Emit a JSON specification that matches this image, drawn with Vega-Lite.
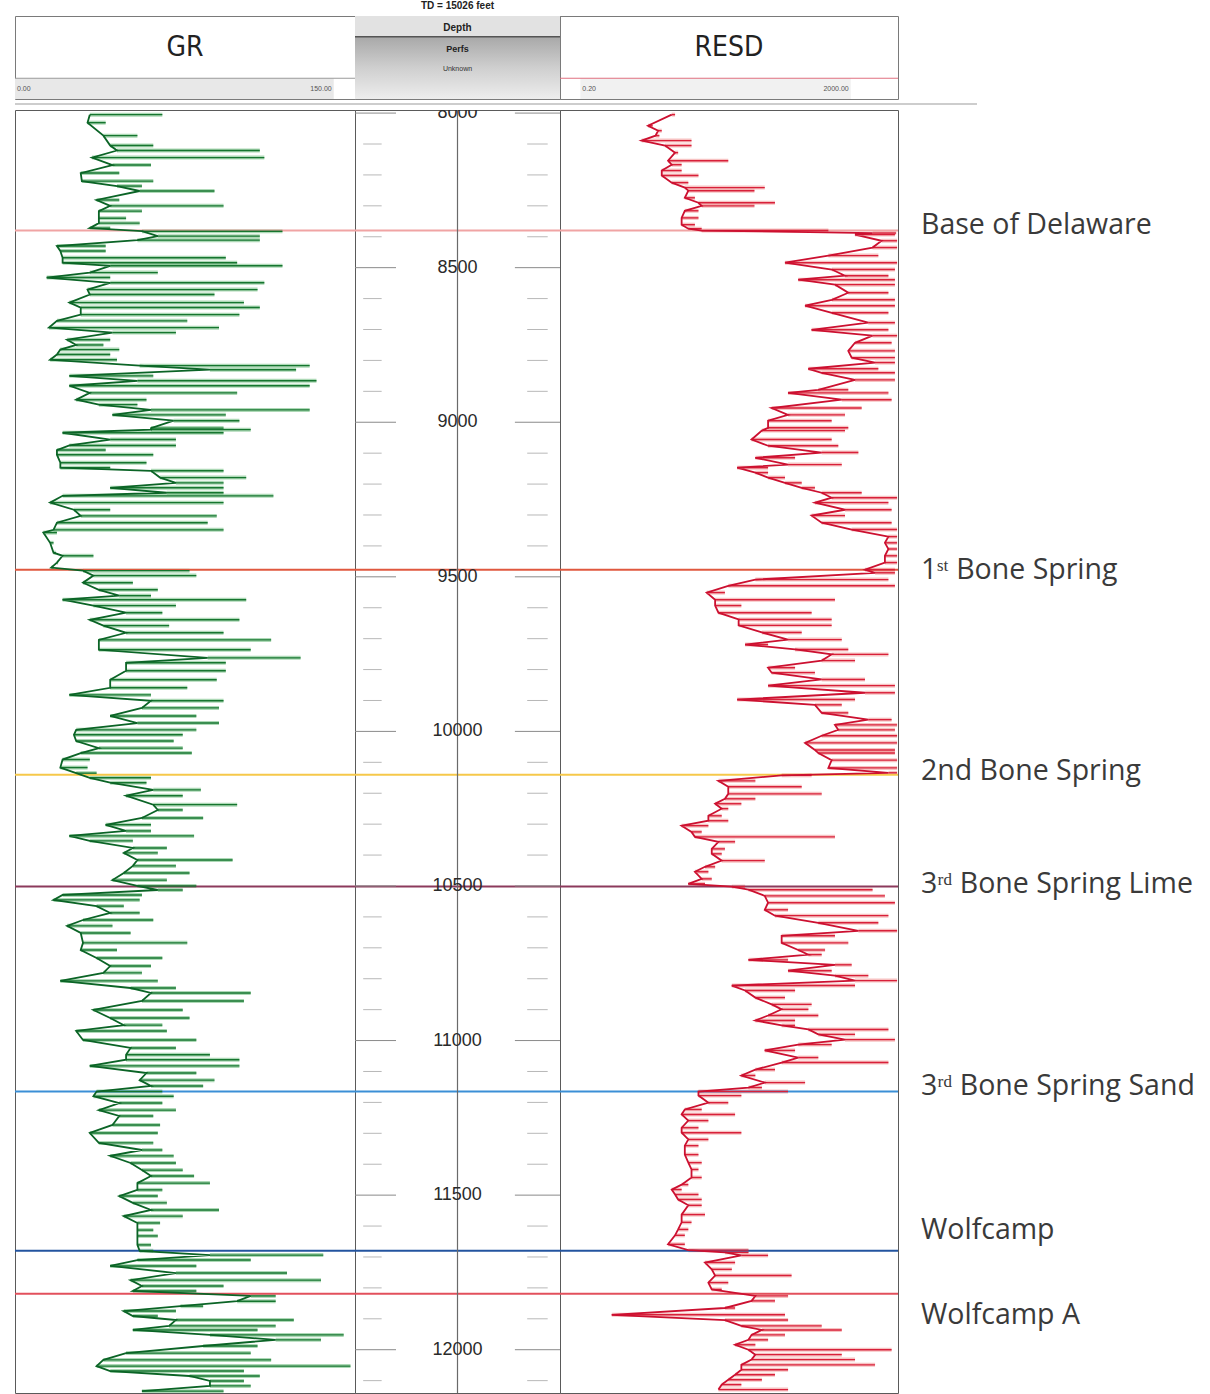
{
"$schema":"https://vega.github.io/schema/vega-lite/v6.json",
"padding":{"left":13,"top":0,"right":0,"bottom":0},
"background":"white",
"config":{"view":{"stroke":null},"concat":{"spacing":0},"text":{"font":"Liberation Sans"}},
"datasets":{
"gr":[
{"d":8005,"lo":33,"hi":65},{"d":8031,"lo":32,"hi":40},{"d":8073,"lo":39,"hi":54},{"d":8105,"lo":42,"hi":61},{"d":8121,"lo":45,"hi":108},{"d":8144,"lo":34,"hi":110},{"d":8168,"lo":43,"hi":60},{"d":8194,"lo":29,"hi":46},{"d":8220,"lo":29.5,"hi":61},{"d":8236,"lo":45,"hi":56},{"d":8252,"lo":55,"hi":88},{"d":8281,"lo":36,"hi":46},{"d":8300,"lo":42,"hi":92},{"d":8317,"lo":37,"hi":56},{"d":8340,"lo":37,"hi":49},{"d":8356,"lo":37,"hi":55},{"d":8372,"lo":33,"hi":42},{"d":8382,"lo":56,"hi":118},{"d":8398,"lo":63,"hi":108},{"d":8411,"lo":54,"hi":108},{"d":8430,"lo":18.5,"hi":40},{"d":8446,"lo":20,"hi":40},{"d":8468,"lo":21,"hi":93},{"d":8484,"lo":21,"hi":98},{"d":8494,"lo":42,"hi":118},{"d":8516,"lo":33,"hi":63},{"d":8532,"lo":14,"hi":42},{"d":8549,"lo":42,"hi":110},{"d":8571,"lo":32,"hi":107},{"d":8587,"lo":33,"hi":88},{"d":8613,"lo":24,"hi":101},{"d":8629,"lo":29,"hi":108},{"d":8652,"lo":29,"hi":99},{"d":8672,"lo":18.5,"hi":76},{"d":8694,"lo":15,"hi":90},{"d":8710,"lo":43,"hi":71},{"d":8733,"lo":23,"hi":42},{"d":8750,"lo":27,"hi":39},{"d":8765,"lo":20,"hi":46},{"d":8781,"lo":18.5,"hi":42},{"d":8798,"lo":15.5,"hi":45},{"d":8817,"lo":55,"hi":130},{"d":8830,"lo":86,"hi":124},{"d":8850,"lo":24,"hi":61},{"d":8866,"lo":54,"hi":133},{"d":8882,"lo":24,"hi":130},{"d":8905,"lo":33,"hi":98},{"d":8927,"lo":27,"hi":58},{"d":8943,"lo":37,"hi":54},{"d":8960,"lo":60,"hi":130},{"d":8976,"lo":43,"hi":93},{"d":8995,"lo":70,"hi":99},{"d":9019,"lo":60,"hi":92},
{"d":9024,"lo":60,"hi":104},{"d":9034,"lo":21,"hi":92},{"d":9056,"lo":42,"hi":71},{"d":9075,"lo":24,"hi":71},{"d":9090,"lo":18.5,"hi":40},{"d":9105,"lo":18.5,"hi":61},{"d":9131,"lo":20,"hi":58},{"d":9147,"lo":20,"hi":42},{"d":9157,"lo":60,"hi":92},{"d":9179,"lo":64,"hi":102},{"d":9196,"lo":71,"hi":92},{"d":9212,"lo":42,"hi":92},{"d":9228,"lo":67,"hi":92},{"d":9238,"lo":21,"hi":114},{"d":9260,"lo":15.5,"hi":92},{"d":9283,"lo":26,"hi":42},{"d":9303,"lo":29,"hi":89},{"d":9325,"lo":18.5,"hi":85},{"d":9348,"lo":17,"hi":92},{"d":9357,"lo":12.5,"hi":18.5},{"d":9390,"lo":15.5,"hi":17},{"d":9422,"lo":17,"hi":18},{"d":9432,"lo":21,"hi":34.6},{"d":9454,"lo":18.5,"hi":19},{"d":9470,"lo":16,"hi":17},{"d":9480,"lo":30,"hi":77},{"d":9496,"lo":34.6,"hi":80},{"d":9519,"lo":30,"hi":52},{"d":9542,"lo":37,"hi":63},{"d":9561,"lo":46,"hi":60},{"d":9574,"lo":21,"hi":102},{"d":9593,"lo":34.6,"hi":71},{"d":9616,"lo":49,"hi":65},{"d":9639,"lo":33,"hi":99},{"d":9658,"lo":39,"hi":68},{"d":9681,"lo":49,"hi":92},{"d":9704,"lo":37,"hi":113},{"d":9736,"lo":37,"hi":104},{"d":9762,"lo":85,"hi":126},{"d":9778,"lo":49,"hi":93},{"d":9804,"lo":49,"hi":93},{"d":9833,"lo":42,"hi":89},{"d":9859,"lo":42,"hi":76},{"d":9882,"lo":24,"hi":60},{"d":9901,"lo":60,"hi":92},{"d":9924,"lo":56,"hi":90},{"d":9950,"lo":42,"hi":80},{"d":9973,"lo":54,"hi":90},{"d":9995,"lo":27,"hi":80},{"d":10011,"lo":26,"hi":74},{"d":10031,"lo":27,"hi":70},{"d":10054,"lo":37,"hi":74},
{"d":10070,"lo":29,"hi":78},{"d":10091,"lo":21,"hi":33},{"d":10117,"lo":20,"hi":32},{"d":10135,"lo":27,"hi":36},{"d":10150,"lo":33,"hi":60},{"d":10166,"lo":42,"hi":58},{"d":10189,"lo":61,"hi":82},{"d":10208,"lo":49,"hi":74},{"d":10237,"lo":61,"hi":98},{"d":10254,"lo":63,"hi":74},{"d":10280,"lo":56,"hi":83},{"d":10302,"lo":40,"hi":60},{"d":10322,"lo":49,"hi":60},{"d":10338,"lo":24,"hi":79},{"d":10354,"lo":33,"hi":52},{"d":10377,"lo":52,"hi":67},{"d":10393,"lo":48,"hi":63},{"d":10416,"lo":54,"hi":96},{"d":10435,"lo":52,"hi":71},{"d":10458,"lo":48,"hi":77},{"d":10481,"lo":43,"hi":67},{"d":10500,"lo":54,"hi":80},{"d":10513,"lo":63,"hi":74},{"d":10529,"lo":21,"hi":56},{"d":10545,"lo":17,"hi":55},{"d":10565,"lo":36,"hi":48},{"d":10587,"lo":42,"hi":55},{"d":10610,"lo":30,"hi":61},{"d":10629,"lo":23,"hi":43},{"d":10652,"lo":29,"hi":51},{"d":10684,"lo":30,"hi":76},{"d":10707,"lo":29,"hi":45},{"d":10733,"lo":36,"hi":65},{"d":10759,"lo":42,"hi":60},{"d":10781,"lo":39,"hi":56},{"d":10807,"lo":20,"hi":63},{"d":10830,"lo":51,"hi":71},{"d":10846,"lo":60,"hi":104},{"d":10872,"lo":56,"hi":101},{"d":10901,"lo":34.6,"hi":74},{"d":10927,"lo":42,"hi":77},{"d":10950,"lo":48,"hi":65},{"d":10969,"lo":27,"hi":67},{"d":10998,"lo":30,"hi":80},{"d":11024,"lo":51,"hi":71},{"d":11046,"lo":49,"hi":86},{"d":11062,"lo":49,"hi":99},{"d":11082,"lo":33,"hi":99},
{"d":11105,"lo":58,"hi":80},{"d":11128,"lo":55,"hi":88},{"d":11147,"lo":60,"hi":83},{"d":11165,"lo":36,"hi":65},{"d":11180,"lo":34.6,"hi":70},{"d":11202,"lo":46,"hi":65},{"d":11225,"lo":37,"hi":71},{"d":11244,"lo":46,"hi":61},{"d":11273,"lo":43,"hi":64},{"d":11299,"lo":33,"hi":63},{"d":11331,"lo":37,"hi":61},{"d":11354,"lo":56,"hi":65},{"d":11373,"lo":42,"hi":70},{"d":11396,"lo":51,"hi":71},{"d":11419,"lo":56,"hi":74},{"d":11438,"lo":60,"hi":79},{"d":11461,"lo":54,"hi":86},{"d":11483,"lo":54,"hi":65},{"d":11503,"lo":46,"hi":63},{"d":11525,"lo":52,"hi":67},{"d":11548,"lo":60,"hi":90},{"d":11568,"lo":48,"hi":74},{"d":11590,"lo":54,"hi":64},{"d":11613,"lo":54,"hi":61},{"d":11632,"lo":54,"hi":63},{"d":11661,"lo":54,"hi":60},{"d":11680,"lo":55,"hi":61},{"d":11694,"lo":86,"hi":136},{"d":11710,"lo":54,"hi":104},{"d":11729,"lo":42,"hi":80},{"d":11752,"lo":71,"hi":120},{"d":11775,"lo":51,"hi":135},{"d":11794,"lo":56,"hi":92},{"d":11810,"lo":52,"hi":80},{"d":11826,"lo":104,"hi":115},{"d":11843,"lo":98,"hi":115},{"d":11859,"lo":73,"hi":83},{"d":11875,"lo":48,"hi":71},{"d":11891,"lo":52,"hi":63},{"d":11904,"lo":71,"hi":123},{"d":11923,"lo":68,"hi":115},{"d":11936,"lo":52,"hi":107},{"d":11952,"lo":86,"hi":145},{"d":11968,"lo":115,"hi":135},{"d":11988,"lo":83,"hi":107},{"d":12011,"lo":49,"hi":104},{"d":12033,"lo":39,"hi":113},{"d":12053,"lo":36,"hi":148},{"d":12069,"lo":42,"hi":101},{"d":12085,"lo":77,"hi":108},{"d":12101,"lo":86,"hi":101},{"d":12117,"lo":86,"hi":104},{"d":12134,"lo":56,"hi":92}
],
"resd":[
{"d":8005,"lo":4.2,"hi":4.6},{"d":8041,"lo":2.2,"hi":2.5},{"d":8057,"lo":2.9,"hi":3.2},{"d":8073,"lo":2.7,"hi":3.0},{"d":8089,"lo":1.85,"hi":7.2},{"d":8105,"lo":3.5,"hi":7.2},{"d":8128,"lo":4.6,"hi":5.0},{"d":8154,"lo":3.8,"hi":19.6},{"d":8167,"lo":4.2,"hi":5.5},{"d":8186,"lo":3.2,"hi":5.5},{"d":8202,"lo":3.2,"hi":8.7},{"d":8225,"lo":4.2,"hi":6.6},{"d":8241,"lo":6.0,"hi":53},{"d":8251,"lo":6.6,"hi":40},{"d":8274,"lo":6.0,"hi":7.9},{"d":8290,"lo":8.7,"hi":70},{"d":8300,"lo":9.5,"hi":40},{"d":8316,"lo":6.0,"hi":8.7},{"d":8339,"lo":5.5,"hi":8.7},{"d":8361,"lo":5.5,"hi":7.9},{"d":8374,"lo":6.6,"hi":9.5},{"d":8380,"lo":9.5,"hi":300},{"d":8388,"lo":1000,"hi":1900},{"d":8393,"lo":620,"hi":1840},{"d":8413,"lo":1280,"hi":1950},{"d":8435,"lo":1000,"hi":1950},{"d":8461,"lo":300,"hi":1170},{"d":8484,"lo":92,"hi":1950},{"d":8506,"lo":330,"hi":1840},{"d":8526,"lo":470,"hi":1540},{"d":8539,"lo":132,"hi":1840},{"d":8555,"lo":360,"hi":1840},{"d":8581,"lo":516,"hi":1540},{"d":8604,"lo":330,"hi":1840},{"d":8623,"lo":159,"hi":1840},{"d":8646,"lo":330,"hi":1540},{"d":8678,"lo":890,"hi":1840},{"d":8701,"lo":190,"hi":1540},{"d":8720,"lo":1000,"hi":1950},{"d":8743,"lo":620,"hi":1680},{"d":8769,"lo":516,"hi":1840},{"d":8791,"lo":566,"hi":1840},{"d":8807,"lo":1070,"hi":1840},{"d":8827,"lo":174,"hi":1170},{"d":8840,"lo":250,"hi":1840},{"d":8863,"lo":620,"hi":1840},{"d":8895,"lo":228,"hi":516},{"d":8905,"lo":100,"hi":1540},{"d":8927,"lo":432,"hi":1680},{"d":8954,"lo":64,"hi":743},{"d":8976,"lo":100,"hi":472},{"d":8995,"lo":58,"hi":328},{"d":9018,"lo":58,"hi":516},
{"d":9027,"lo":49,"hi":472},{"d":9056,"lo":37,"hi":328},{"d":9076,"lo":58,"hi":393},{"d":9098,"lo":250,"hi":679},{"d":9115,"lo":41,"hi":121},{"d":9137,"lo":100,"hi":432},{"d":9147,"lo":25,"hi":58},{"d":9163,"lo":41,"hi":58},{"d":9179,"lo":58,"hi":92},{"d":9196,"lo":92,"hi":145},{"d":9212,"lo":145,"hi":208},{"d":9228,"lo":250,"hi":743},{"d":9244,"lo":328,"hi":1950},{"d":9260,"lo":208,"hi":1540},{"d":9283,"lo":472,"hi":1680},{"d":9302,"lo":190,"hi":472},{"d":9325,"lo":250,"hi":1680},{"d":9347,"lo":566,"hi":1950},{"d":9370,"lo":1540,"hi":1950},{"d":9390,"lo":1400,"hi":1950},{"d":9410,"lo":1540,"hi":1950},{"d":9432,"lo":1400,"hi":1950},{"d":9454,"lo":1400,"hi":1950},{"d":9477,"lo":813,"hi":1840},{"d":9487,"lo":1070,"hi":1840},{"d":9509,"lo":41,"hi":1540},{"d":9529,"lo":19.6,"hi":1840},{"d":9551,"lo":10.9,"hi":17.9},{"d":9574,"lo":13.7,"hi":359},{"d":9593,"lo":13.7,"hi":28},{"d":9616,"lo":15,"hi":190},{"d":9638,"lo":26,"hi":328},{"d":9657,"lo":26,"hi":328},{"d":9680,"lo":49,"hi":145},{"d":9703,"lo":100,"hi":432},{"d":9719,"lo":31,"hi":58},{"d":9735,"lo":121,"hi":516},{"d":9751,"lo":328,"hi":1540},{"d":9771,"lo":250,"hi":620},{"d":9794,"lo":58,"hi":121},{"d":9810,"lo":64,"hi":208},{"d":9832,"lo":250,"hi":813},{"d":9852,"lo":58,"hi":1840},{"d":9875,"lo":813,"hi":1840},{"d":9897,"lo":25,"hi":620},{"d":9914,"lo":208,"hi":432},{"d":9940,"lo":250,"hi":516},{"d":9962,"lo":891,"hi":1680},{"d":9979,"lo":359,"hi":1950},{"d":9995,"lo":393,"hi":1840},{"d":10014,"lo":250,"hi":1950},{"d":10037,"lo":159,"hi":1950},{"d":10060,"lo":208,"hi":1840},
{"d":10070,"lo":228,"hi":1840},{"d":10093,"lo":328,"hi":1950},{"d":10118,"lo":300,"hi":1950},{"d":10134,"lo":1540,"hi":1950},{"d":10142,"lo":84,"hi":190},{"d":10160,"lo":15,"hi":41},{"d":10179,"lo":19.6,"hi":145},{"d":10202,"lo":19.6,"hi":250},{"d":10218,"lo":17.9,"hi":41},{"d":10234,"lo":13.7,"hi":28},{"d":10250,"lo":16.4,"hi":19.6},{"d":10273,"lo":11.4,"hi":16.4},{"d":10289,"lo":11.4,"hi":19.6},{"d":10305,"lo":5.5,"hi":11.4},{"d":10325,"lo":7.2,"hi":9.5},{"d":10341,"lo":7.9,"hi":359},{"d":10357,"lo":15,"hi":23.6},{"d":10380,"lo":12.5,"hi":17.9},{"d":10396,"lo":12.5,"hi":16.4},{"d":10418,"lo":16.4,"hi":53},{"d":10438,"lo":10.4,"hi":13.7},{"d":10454,"lo":7.9,"hi":11.4},{"d":10477,"lo":9.5,"hi":12.5},{"d":10493,"lo":6.6,"hi":10.4},{"d":10502,"lo":21.6,"hi":31},{"d":10512,"lo":34,"hi":1000},{"d":10532,"lo":53,"hi":1400},{"d":10554,"lo":58,"hi":1840},{"d":10577,"lo":53,"hi":100},{"d":10596,"lo":70,"hi":1540},{"d":10619,"lo":228,"hi":1170},{"d":10645,"lo":679,"hi":1950},{"d":10661,"lo":84,"hi":359},{"d":10684,"lo":84,"hi":516},{"d":10707,"lo":132,"hi":274},{"d":10722,"lo":174,"hi":250},{"d":10739,"lo":34,"hi":100},{"d":10755,"lo":359,"hi":566},{"d":10774,"lo":100,"hi":328},{"d":10790,"lo":359,"hi":891},{"d":10806,"lo":620,"hi":1950},{"d":10822,"lo":21.6,"hi":620},{"d":10838,"lo":31,"hi":121},{"d":10861,"lo":41,"hi":92},{"d":10883,"lo":64,"hi":190},{"d":10899,"lo":84,"hi":174},{"d":10919,"lo":58,"hi":228},{"d":10935,"lo":41,"hi":121},{"d":10951,"lo":84,"hi":121},{"d":10964,"lo":174,"hi":1540},{"d":10980,"lo":228,"hi":620},{"d":10997,"lo":472,"hi":1840},{"d":11013,"lo":132,"hi":328},{"d":11032,"lo":53,"hi":121},{"d":11055,"lo":132,"hi":228},{"d":11071,"lo":84,"hi":1540},{"d":11094,"lo":41,"hi":70},
{"d":11113,"lo":28,"hi":41},{"d":11136,"lo":53,"hi":159},{"d":11152,"lo":34,"hi":49},{"d":11165,"lo":8.7,"hi":100},{"d":11178,"lo":8.7,"hi":28},{"d":11201,"lo":11.4,"hi":19.6},{"d":11223,"lo":6.0,"hi":9.5},{"d":11239,"lo":5.5,"hi":23.6},{"d":11259,"lo":6.6,"hi":11.4},{"d":11282,"lo":5.5,"hi":8.7},{"d":11298,"lo":5.5,"hi":28},{"d":11320,"lo":6.6,"hi":11.4},{"d":11340,"lo":6.0,"hi":8.7},{"d":11369,"lo":6.0,"hi":8.7},{"d":11395,"lo":6.6,"hi":9.5},{"d":11417,"lo":7.2,"hi":8.7},{"d":11443,"lo":7.2,"hi":9.5},{"d":11466,"lo":5.5,"hi":6.6},{"d":11482,"lo":4.2,"hi":5.5},{"d":11498,"lo":4.6,"hi":8.7},{"d":11514,"lo":5.0,"hi":9.5},{"d":11533,"lo":6.6,"hi":9.5},{"d":11563,"lo":5.5,"hi":10.4},{"d":11588,"lo":5.5,"hi":7.2},{"d":11611,"lo":5.0,"hi":6.6},{"d":11630,"lo":4.6,"hi":6.0},{"d":11659,"lo":3.8,"hi":6.0},{"d":11678,"lo":6.6,"hi":34},{"d":11685,"lo":17.9,"hi":34},{"d":11695,"lo":28,"hi":58},{"d":11718,"lo":10.4,"hi":23.6},{"d":11740,"lo":12.5,"hi":21.6},{"d":11760,"lo":13.7,"hi":110},{"d":11783,"lo":11.4,"hi":19.6},{"d":11805,"lo":12.5,"hi":16.4},{"d":11826,"lo":41,"hi":100},{"d":11842,"lo":37,"hi":70},{"d":11865,"lo":17.9,"hi":23.6},{"d":11887,"lo":0.82,"hi":92},{"d":11904,"lo":17.9,"hi":100},{"d":11923,"lo":28,"hi":250},{"d":11936,"lo":49,"hi":432},{"d":11952,"lo":37,"hi":92},{"d":11968,"lo":34,"hi":58},{"d":11984,"lo":23.6,"hi":41},{"d":12000,"lo":34,"hi":1680},{"d":12016,"lo":41,"hi":432},{"d":12032,"lo":37,"hi":620},{"d":12049,"lo":28,"hi":1070},{"d":12065,"lo":28,"hi":100},{"d":12081,"lo":23.6,"hi":70},{"d":12097,"lo":19.6,"hi":49},{"d":12113,"lo":16.4,"hi":28},{"d":12129,"lo":15,"hi":100}
],
"tops":[
{"name":"Base of Delaware","d":8380,"ld":8361},
{"name":"1ˢᵗ Bone Spring","d":9477,"ld":9477},
{"name":"2nd Bone Spring","d":10140,"ld":10127},
{"name":"3ʳᵈ Bone Spring Lime","d":10502,"ld":10493},
{"name":"3ʳᵈ Bone Spring Sand","d":11165,"ld":11146},
{"name":"Wolfcamp","d":11680,"ld":11612},
{"name":"Wolfcamp A","d":11819,"ld":11887}
],
"major":[{"d":8000},{"d":8500},{"d":9000},{"d":9500},{"d":10000},{"d":10500},{"d":11000},{"d":11500},{"d":12000}],
"minor":[{"d":8100},{"d":8200},{"d":8300},{"d":8400},{"d":8600},{"d":8700},{"d":8800},{"d":8900},{"d":9100},{"d":9200},{"d":9300},{"d":9400},{"d":9600},{"d":9700},{"d":9800},{"d":9900},{"d":10100},{"d":10200},{"d":10300},{"d":10400},{"d":10600},{"d":10700},{"d":10800},{"d":10900},{"d":11100},{"d":11200},{"d":11300},{"d":11400},{"d":11600},{"d":11700},{"d":11800},{"d":11900},{"d":12100}]
},
"spacing":0,
"vconcat":[
{"hconcat":[
 {"width":340,"height":13,"data":{"values":[{}]},"mark":{"type":"text"},"encoding":{"text":{"value":""}}},
 {"width":205,"height":13,"data":{"values":[{}]},"mark":{"type":"text","fontSize":10,"fontWeight":"bold","color":"#222","baseline":"middle","dy":-3},"encoding":{"text":{"value":"TD = 15026 feet"}}}
],"spacing":0,"bounds":"flush"},
{"hconcat":[
 {"width":340,"height":83,"view":{"stroke":"#7a7a7a"},"data":{"values":[{}]},
  "layer":[
   {"mark":{"type":"rect","fill":"#e8e8e8"},"encoding":{"x":{"datum":0,"scale":{"domain":[0,150]},"axis":null},"x2":{"datum":150},"y":{"datum":0.75,"scale":{"domain":[0,1],"reverse":true},"axis":null},"y2":{"datum":1}}},
   {"mark":{"type":"rule","color":"#9a9a9a"},"encoding":{"y":{"datum":0.75}}},
   {"mark":{"type":"text","fontSize":28,"font":"DejaVu Sans Condensed","color":"#222","baseline":"middle"},"encoding":{"text":{"value":"GR"},"y":{"datum":0.39}}},
   {"mark":{"type":"text","fontSize":7,"align":"left","dx":2,"color":"#555","baseline":"middle"},"encoding":{"text":{"value":"0.00"},"x":{"datum":0},"y":{"datum":0.88}}},
   {"mark":{"type":"text","fontSize":7,"align":"right","dx":-2,"color":"#555","baseline":"middle"},"encoding":{"text":{"value":"150.00"},"x":{"datum":150},"y":{"datum":0.88}}}
  ]},
 {"width":205,"height":83,"view":{"stroke":"#7a7a7a"},"data":{"values":[{}]},
  "layer":[
   {"mark":{"type":"rect","fill":"#e2e2e2"},"encoding":{"x":{"datum":0,"scale":{"domain":[0,1]},"axis":null},"x2":{"datum":1},"y":{"datum":0,"scale":{"domain":[0,1],"reverse":true},"axis":null},"y2":{"datum":0.25}}},
   {"mark":{"type":"rect","fill":{"gradient":"linear","x1":0,"y1":0,"x2":0,"y2":1,"stops":[{"offset":0,"color":"#a8a8a8"},{"offset":0.5,"color":"#cfcfcf"},{"offset":1,"color":"#ededed"}]}},"encoding":{"x":{"datum":0},"x2":{"datum":1},"y":{"datum":0.25},"y2":{"datum":1}}},
   {"mark":{"type":"rule","color":"#555","strokeWidth":1.5},"encoding":{"y":{"datum":0.25}}},
   {"mark":{"type":"text","fontSize":10,"fontWeight":"bold","color":"#222","baseline":"middle"},"encoding":{"text":{"value":"Depth"},"y":{"datum":0.14}}},
   {"mark":{"type":"text","fontSize":9,"fontWeight":"bold","color":"#222","baseline":"middle"},"encoding":{"text":{"value":"Perfs"},"y":{"datum":0.4}}},
   {"mark":{"type":"text","fontSize":7,"color":"#333","baseline":"middle"},"encoding":{"text":{"value":"Unknown"},"y":{"datum":0.64}}}
  ]},
 {"width":338,"height":83,"view":{"stroke":"#7a7a7a"},"data":{"values":[{}]},
  "layer":[
   {"mark":{"type":"rect","fill":"#f1f1f1"},"encoding":{"x":{"datum":0.2,"scale":{"type":"log","domain":[0.2,2000]},"axis":null},"x2":{"datum":2000},"y":{"datum":0.75,"scale":{"domain":[0,1],"reverse":true},"axis":null},"y2":{"datum":1}}},
   {"mark":{"type":"rule","color":"#e07080","strokeWidth":1.2},"encoding":{"y":{"datum":0.75}}},
   {"mark":{"type":"text","fontSize":28,"font":"DejaVu Sans Condensed","color":"#222","baseline":"middle"},"encoding":{"text":{"value":"RESD"},"y":{"datum":0.39}}},
   {"mark":{"type":"text","fontSize":7,"align":"left","dx":2,"color":"#555","baseline":"middle"},"encoding":{"text":{"value":"0.20"},"x":{"datum":0.2},"y":{"datum":0.88}}},
   {"mark":{"type":"text","fontSize":7,"align":"right","dx":-2,"color":"#555","baseline":"middle"},"encoding":{"text":{"value":"2000.00"},"x":{"datum":2000},"y":{"datum":0.88}}}
  ]}
],"spacing":0,"bounds":"flush"},
{"width":962,"height":8,"data":{"values":[{}]},"mark":{"type":"rule","color":"#bcbcbc","strokeWidth":1.5},"encoding":{"y":{"datum":0.5,"scale":{"domain":[0,1]},"axis":null}}},
{"hconcat":[
 {"width":340,"height":1283,"view":{"stroke":"#5a5a5a"},
  "layer":[
   {"data":{"name":"gr"},"mark":{"type":"rule","color":"#5cb36e","strokeWidth":4,"opacity":0.5,"clip":true},
    "encoding":{
     "y":{"field":"d","type":"quantitative","scale":{"domain":[7990,12140],"reverse":true,"nice":false,"zero":false},
       "axis":{"orient":"left","values":[8000,8100,8200,8300,8400,8500,8600,8700,8800,8900,9000,9100,9200,9300,9400,9500,9600,9700,9800,9900,10000,10100,10200,10300,10400,10500,10600,10700,10800,10900,11000,11100,11200,11300,11400,11500,11600,11700,11800,11900,12000,12100],"labels":false,"domain":false,"ticks":true,"tickSize":-6,"tickColor":"#888","title":null,"grid":true,"gridColor":{"condition":{"test":"datum.value % 500 === 0","value":"#a8a8a8"},"value":"#e4e4e4"}}},
     "x":{"field":"lo","type":"quantitative","scale":{"domain":[0,150],"nice":false,"zero":false},
       "axis":{"orient":"top","values":[37.5,75,112.5],"labels":false,"ticks":false,"domain":false,"title":null,"grid":true,"gridColor":{"condition":{"test":"datum.value === 75","value":"#9c9c9c"},"value":"#cacaca"}}},
     "x2":{"field":"hi"}}},
   {"data":{"name":"tops"},"mark":{"type":"rule","strokeWidth":2},
    "encoding":{"y":{"field":"d","type":"quantitative","scale":{"domain":[7990,12140],"reverse":true,"nice":false,"zero":false},"axis":null},
     "color":{"field":"name","type":"nominal","legend":null,"scale":{"domain":["Base of Delaware","1ˢᵗ Bone Spring","2nd Bone Spring","3ʳᵈ Bone Spring Lime","3ʳᵈ Bone Spring Sand","Wolfcamp","Wolfcamp A"],"range":["#f0a4a4","#e0583f","#f6c84a","#8c3a5c","#3b8fd6","#23549f","#e2505c"]}}}},
   {"data":{"name":"gr"},"mark":{"type":"rule","color":"#16752f","strokeWidth":1.4,"clip":true},
    "encoding":{"y":{"field":"d","type":"quantitative","scale":{"domain":[7990,12140],"reverse":true,"nice":false,"zero":false},"axis":null},"x":{"field":"lo","type":"quantitative","axis":null},"x2":{"field":"hi"}}},
   {"data":{"name":"gr"},"mark":{"type":"line","color":"#0b6426","strokeWidth":1.8,"clip":true},
    "encoding":{"y":{"field":"d","type":"quantitative","scale":{"domain":[7990,12140],"reverse":true,"nice":false,"zero":false},"axis":null},"x":{"field":"lo","type":"quantitative","axis":null},"order":{"field":"d","type":"quantitative"}}}
  ]},
 {"width":205,"height":1283,"view":{"stroke":"#5a5a5a"},
  "layer":[
   {"data":{"name":"tops"},"mark":{"type":"rule","strokeWidth":2},
    "encoding":{"y":{"field":"d","type":"quantitative","scale":{"domain":[7990,12140],"reverse":true,"nice":false,"zero":false},"axis":null},
     "color":{"field":"name","type":"nominal","legend":null,"scale":{"domain":["Base of Delaware","1ˢᵗ Bone Spring","2nd Bone Spring","3ʳᵈ Bone Spring Lime","3ʳᵈ Bone Spring Sand","Wolfcamp","Wolfcamp A"],"range":["#f0a4a4","#e0583f","#f6c84a","#8c3a5c","#3b8fd6","#23549f","#e2505c"]}}}},
   {"data":{"values":[{}]},"mark":{"type":"rule","color":"#6a6a6a","strokeWidth":1.2},"encoding":{"x":{"datum":0.5,"scale":{"domain":[0,1]},"axis":null}}},
   {"data":{"name":"minor"},"mark":{"type":"rule","color":"#b8b8b8"},"encoding":{"y":{"field":"d","type":"quantitative","scale":{"domain":[7990,12140],"reverse":true,"nice":false,"zero":false},"axis":null},"x":{"datum":0.04},"x2":{"datum":0.13}}},
   {"data":{"name":"minor"},"mark":{"type":"rule","color":"#b8b8b8"},"encoding":{"y":{"field":"d","type":"quantitative","scale":{"domain":[7990,12140],"reverse":true,"nice":false,"zero":false},"axis":null},"x":{"datum":0.84},"x2":{"datum":0.94}}},
   {"data":{"name":"major"},"mark":{"type":"rule","color":"#8a8a8a"},"encoding":{"y":{"field":"d","type":"quantitative","scale":{"domain":[7990,12140],"reverse":true,"nice":false,"zero":false},"axis":null},"x":{"datum":0},"x2":{"datum":0.2}}},
   {"data":{"name":"major"},"mark":{"type":"rule","color":"#8a8a8a"},"encoding":{"y":{"field":"d","type":"quantitative","scale":{"domain":[7990,12140],"reverse":true,"nice":false,"zero":false},"axis":null},"x":{"datum":0.78},"x2":{"datum":1}}},
   {"data":{"name":"major"},"mark":{"type":"text","fontSize":18,"color":"#2a2a2a","baseline":"middle","clip":true},"encoding":{"y":{"field":"d","type":"quantitative","scale":{"domain":[7990,12140],"reverse":true,"nice":false,"zero":false},"axis":null},"text":{"field":"d","type":"quantitative","format":"d"}}}
  ]},
 {"width":338,"height":1283,"view":{"stroke":"#5a5a5a"},
  "layer":[
   {"data":{"name":"resd"},"mark":{"type":"rule","color":"#f08585","strokeWidth":4,"opacity":0.5,"clip":true},
    "encoding":{
     "y":{"field":"d","type":"quantitative","scale":{"domain":[7990,12140],"reverse":true,"nice":false,"zero":false},
       "axis":{"orient":"left","values":[8000,8100,8200,8300,8400,8500,8600,8700,8800,8900,9000,9100,9200,9300,9400,9500,9600,9700,9800,9900,10000,10100,10200,10300,10400,10500,10600,10700,10800,10900,11000,11100,11200,11300,11400,11500,11600,11700,11800,11900,12000,12100],"labels":false,"domain":false,"ticks":true,"tickSize":-6,"tickColor":"#888","title":null,"grid":true,"gridColor":{"condition":{"test":"datum.value % 500 === 0","value":"#a8a8a8"},"value":"#e4e4e4"}}},
     "x":{"field":"lo","type":"quantitative","scale":{"type":"log","domain":[0.2,2000],"nice":false},
       "axis":{"orient":"top","values":[0.3,0.4,0.5,0.6,0.7,0.8,0.9,1,2,3,4,5,6,7,8,9,10,20,30,40,50,60,70,80,90,100,200,300,400,500,600,700,800,900,1000],"labels":false,"ticks":false,"domain":false,"title":null,"grid":true,"gridColor":{"condition":{"test":"indexof([1,10,100,1000], datum.value) >= 0","value":"#a6a6a6"},"value":"#eeeeee"}}},
     "x2":{"field":"hi"}}},
   {"data":{"name":"tops"},"mark":{"type":"rule","strokeWidth":2},
    "encoding":{"y":{"field":"d","type":"quantitative","scale":{"domain":[7990,12140],"reverse":true,"nice":false,"zero":false},"axis":null},
     "color":{"field":"name","type":"nominal","legend":null,"scale":{"domain":["Base of Delaware","1ˢᵗ Bone Spring","2nd Bone Spring","3ʳᵈ Bone Spring Lime","3ʳᵈ Bone Spring Sand","Wolfcamp","Wolfcamp A"],"range":["#f0a4a4","#e0583f","#f6c84a","#8c3a5c","#3b8fd6","#23549f","#e2505c"]}}}},
   {"data":{"name":"resd"},"mark":{"type":"rule","color":"#d8203a","strokeWidth":1.4,"clip":true},
    "encoding":{"y":{"field":"d","type":"quantitative","scale":{"domain":[7990,12140],"reverse":true,"nice":false,"zero":false},"axis":null},"x":{"field":"lo","type":"quantitative","axis":null},"x2":{"field":"hi"}}},
   {"data":{"name":"resd"},"mark":{"type":"line","color":"#cc1030","strokeWidth":1.8,"clip":true},
    "encoding":{"y":{"field":"d","type":"quantitative","scale":{"domain":[7990,12140],"reverse":true,"nice":false,"zero":false},"axis":null},"x":{"field":"lo","type":"quantitative","axis":null},"order":{"field":"d","type":"quantitative"}}}
  ]},
 {"width":312,"height":1283,"data":{"name":"tops"},
  "mark":{"type":"text","align":"left","baseline":"middle","fontSize":28.5,"font":"Open Sans","color":"#3a3a3a","x":23},
  "encoding":{"y":{"field":"ld","type":"quantitative","scale":{"domain":[7990,12140],"reverse":true,"nice":false,"zero":false},"axis":null},"text":{"field":"name"}}}
],"spacing":0,"bounds":"flush"}
]
}
